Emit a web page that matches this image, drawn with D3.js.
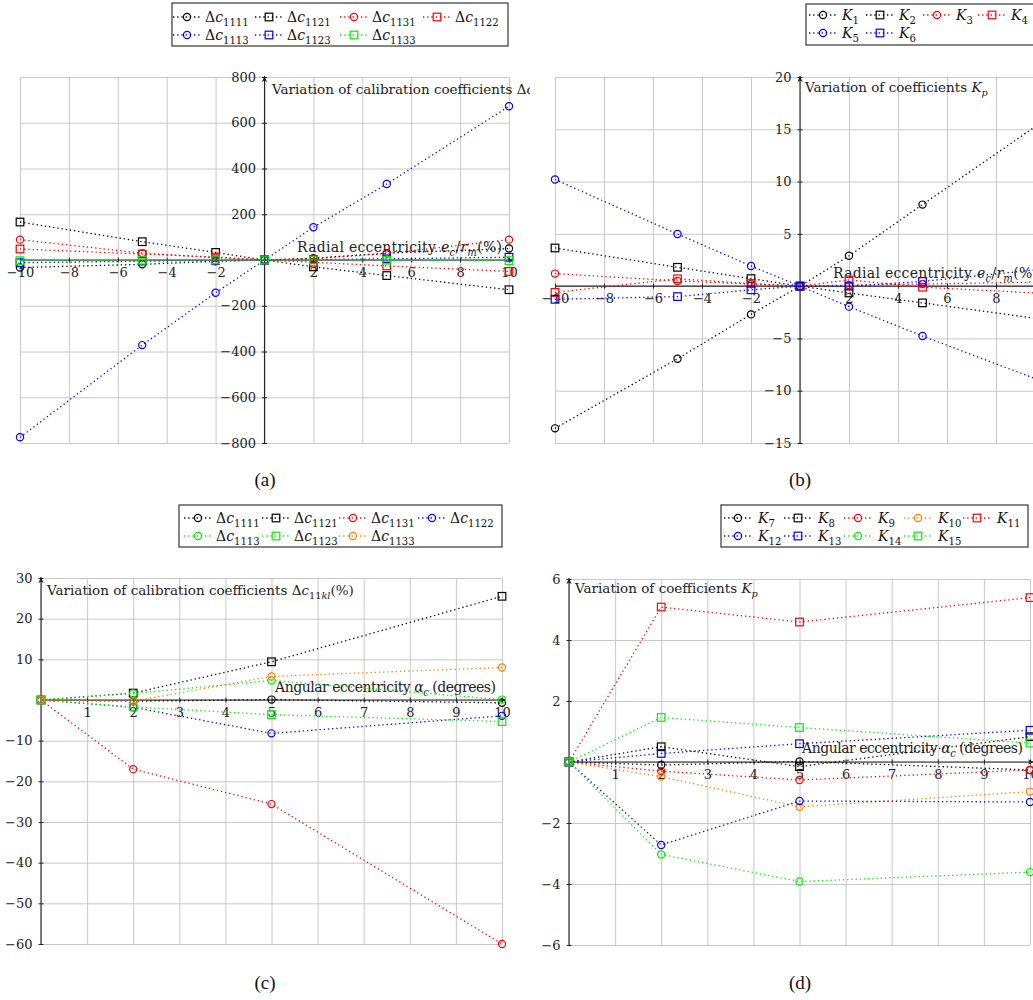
<!DOCTYPE html>
<html><head><meta charset="utf-8">
<script src="https://cdn.jsdelivr.net/npm/d3@7"></script>
<style>body{margin:0;background:#fff}</style>
</head><body>
<script>
// ---------------- DATA ----------------
const radialX = [-10, -5, -2, 0, 2, 5, 10];
const angularX = [0, 2, 5, 10];

// Panel (a): variation of calibration coefficients vs radial eccentricity
const aDc1111 = [-33, -19, -6, 0, 8, 30, 50];
const aDc1121 = [166, 80, 33, 0, -30, -68, -130];
const aDc1131 = [89, 30, 10, 0, 6, 28, 89];
const aDc1122 = [48, 26, 13, 0, -10, -26, -50];
const aDc1113 = [-775, -372, -143, 0, 143, 332, 672];
const aDc1123 = [-12, -5, -2, 0, 2, 5, 12];
const aDc1133 = [-3, -1, 0, 0, 0, -1, -3];
const aXTicks = [-10, -8, -6, -4, -2, 2, 4, 6, 8, 10];
const aYTicks = [800, 600, 400, 200, -200, -400, -600, -800];

// Panel (b): coefficients K1..K6 vs radial eccentricity
const bK1 = [-13.6, -6.95, -2.7, 0, 2.9, 7.8, 15.9];
const bK2 = [3.65, 1.8, 0.72, 0, -0.65, -1.6, -3.2];
const bK3 = [1.2, 0.5, 0.2, 0, 0.1, 0.2, 0.4];
const bK4 = [-0.6, 0.7, 0.25, 0, 0.6, -0.1, -0.7];
const bK5 = [10.2, 4.98, 1.93, 0, -1.96, -4.77, -9.2];
const bK6 = [-1.26, -1.0, -0.35, 0, 0.0, 0.45, 1.65];
const bXTicks = [-10, -8, -6, -4, -2, 2, 4, 6, 8, 10];
const bYTicks = [20, 15, 10, 5, -5, -10, -15];

// Panel (c): variation of calibration coefficients vs angular eccentricity
const cDc1111 = [0, -0.3, 0.1, -0.7];
const cDc1121 = [0, 1.7, 9.4, 25.5];
const cDc1131 = [0, -17, -25.6, -60];
const cDc1122 = [0, -1.8, -8.2, -3.9];
const cDc1113 = [0, 1.6, 4.8, 0.1];
const cDc1123 = [0, -1.7, -3.6, -5.3];
const cDc1133 = [0, -0.3, 5.8, 8.0];
const cXTicks = [1, 2, 3, 4, 5, 6, 7, 8, 9, 10];
const cYTicks = [30, 20, 10, -10, -20, -30, -40, -50, -60];

// Panel (d): coefficients K7..K15 vs angular eccentricity
const dK7 = [0, -0.1, 0.02, -0.26];
const dK8 = [0, 0.5, -0.15, 0.83];
const dK9 = [0, -0.3, -0.59, -0.26];
const dK10 = [0, -0.48, -1.47, -0.97];
const dK11 = [0, 5.08, 4.59, 5.39];
const dK12 = [0, -2.72, -1.28, -1.31];
const dK13 = [0, 0.28, 0.6, 1.04];
const dK14 = [0, -3.03, -3.92, -3.61];
const dK15 = [0, 1.46, 1.13, 0.62];
const dXTicks = [1, 2, 3, 4, 5, 6, 7, 8, 9, 10];
const dYTicks = [6, 4, 2, -2, -4, -6];

// ---------------- HELPERS ----------------
const FONT = "'DejaVu Serif', serif";
const CAPFONT = "'Liberation Serif', 'DejaVu Serif', serif";
const COL = {black:"#000", red:"#ff0000", blue:"#0000ff", green:"#00f000", orange:"#ff8000"};

const svg = d3.select("body").append("svg").attr("width", 1033).attr("height", 1000)
  .attr("font-family", FONT);
const defs = svg.append("defs");
defs.append("marker").attr("id", "arrow").attr("viewBox", "0 0 8 8")
  .attr("refX", 7).attr("refY", 4).attr("markerWidth", 7).attr("markerHeight", 7)
  .attr("markerUnits", "userSpaceOnUse").attr("orient", "auto")
  .append("path").attr("d", "M0,1 L7,4 L0,7 L2,4 z").attr("fill", "#222");

function addMath(textSel, segs) {
  let sub = false;
  segs.forEach(s => {
    const ts = textSel.append("tspan").text(s.t);
    if (s.i) ts.attr("font-style", "italic");
    if (s.sub) {
      ts.attr("font-size", "0.72em");
      if (!sub) { ts.attr("dy", 4); sub = true; }
    } else if (sub) { ts.attr("dy", -4); sub = false; }
  });
}
const dcLabel = idx => [{t:"Δ"}, {t:"c", i:true}, {t:idx, sub:true}];
const kLabel = idx => [{t:"K", i:true}, {t:idx, sub:true}];

function drawMarker(g, type, cx, cy, color) {
  if (type === "circle") {
    g.append("circle").attr("cx", cx).attr("cy", cy).attr("r", 3.6)
      .attr("fill", "none").attr("stroke", color).attr("stroke-width", 1.2);
  } else {
    g.append("rect").attr("x", cx - 3.8).attr("y", cy - 3.8).attr("width", 7.6).attr("height", 7.6)
      .attr("fill", "none").attr("stroke", color).attr("stroke-width", 1.2);
  }
}

function drawPanel(p) {
  const clipId = p.id + "-clip";
  defs.append("clipPath").attr("id", clipId).append("rect")
    .attr("x", p.clip[0]).attr("y", p.clip[1]).attr("width", p.clip[2]).attr("height", p.clip[3]);
  const g = svg.append("g").attr("clip-path", `url(#${clipId})`);
  const x = d3.scaleLinear().domain(p.xDom).range(p.xRange);
  const y = d3.scaleLinear().domain(p.yDom).range(p.yRange);
  const gh = p.yRange[0] - p.yRange[1];
  const gw = p.xRange[1] - p.xRange[0];

  // grid
  g.append("g").attr("transform", `translate(0,${p.yRange[0]})`)
    .call(d3.axisBottom(x).tickValues(p.xGrid).tickSize(-gh).tickFormat(""))
    .call(s => { s.select(".domain").remove(); s.selectAll("line").attr("stroke", "#c8c8c8").attr("stroke-width", 1); });
  g.append("g").attr("transform", `translate(${p.xRange[0]},0)`)
    .call(d3.axisLeft(y).tickValues(p.yGrid).tickSize(-gw).tickFormat(""))
    .call(s => { s.select(".domain").remove(); s.selectAll("line").attr("stroke", "#c8c8c8").attr("stroke-width", 1); });

  const x0 = x(0), y0 = y(0);
  // axis lines with arrows
  g.append("line").attr("x1", p.xRange[0]).attr("x2", p.xRange[1] + 4).attr("y1", y0).attr("y2", y0)
    .attr("stroke", "#222").attr("stroke-width", 1.1).attr("marker-end", "url(#arrow)");
  g.append("line").attr("x1", x0).attr("x2", x0).attr("y1", p.yRange[0]).attr("y2", p.yRange[1] - 1)
    .attr("stroke", "#222").attr("stroke-width", 1.1).attr("marker-end", "url(#arrow)");

  // tick labels via d3 axes
  const fs = 13;
  g.append("g").attr("transform", `translate(0,${y0})`)
    .call(d3.axisBottom(x).tickValues(p.xTicks).tickSize(2.5).tickPadding(p.xPad || 5))
    .call(s => {
      s.attr("font-family", FONT);
      s.select(".domain").remove();
      s.selectAll(".tick line").attr("y1", -2.5).attr("stroke", "#222");
      s.selectAll("text").attr("font-family", FONT).attr("font-size", fs).attr("fill", "#222");
    });
  g.append("g").attr("transform", `translate(${x0},0)`)
    .call(d3.axisLeft(y).tickValues(p.yTicks).tickSize(2.5).tickPadding(6))
    .call(s => {
      s.attr("font-family", FONT);
      s.select(".domain").remove();
      s.selectAll(".tick line").attr("x1", 2.5).attr("stroke", "#222");
      s.selectAll("text").attr("font-family", FONT).attr("font-size", fs).attr("fill", "#222");
    });

  // axis labels
  const yl = g.append("text").attr("x", p.yLabelPos[0]).attr("y", p.yLabelPos[1])
    .attr("font-size", 13.5).attr("fill", "#222");
  addMath(yl, p.yLabel);
  const xl = g.append("text").attr("x", p.xLabelPos[0]).attr("y", p.xLabelPos[1])
    .attr("font-size", 14).attr("fill", "#222")
    .attr("textLength", p.xLabelLen).attr("lengthAdjust", "spacing");
  addMath(xl, p.xLabel);

  // series
  const line = d3.line().x(d => x(d[0])).y(d => y(d[1]));
  p.series.forEach(s => {
    const pts = p.xs.map((xv, i) => [xv, s.values[i]]);
    g.append("path").attr("d", line(pts)).attr("fill", "none")
      .attr("stroke", s.color).attr("stroke-width", 1.3).attr("stroke-dasharray", "1.3,2.9");
    const mg = g.append("g");
    pts.forEach(d => drawMarker(mg, s.marker, x(d[0]), y(d[1]), s.color));
  });

  // legend
  const L = p.legend;
  const lg = svg.append("g");
  lg.append("rect").attr("x", L.box[0]).attr("y", L.box[1]).attr("width", L.box[2]).attr("height", L.box[3])
    .attr("fill", "#fff").attr("stroke", "#222").attr("stroke-width", 1.1);
  p.series.forEach((s, i) => {
    const col = i % L.cols.length, row = Math.floor(i / L.cols.length);
    const mx = L.cols[col], my = L.rows[row];
    lg.append("line").attr("x1", mx - 14).attr("x2", mx + 14).attr("y1", my).attr("y2", my)
      .attr("stroke", s.color).attr("stroke-width", 1.3).attr("stroke-dasharray", "1.3,2.9");
    drawMarker(lg, s.marker, mx, my, s.color);
    const t = lg.append("text").attr("x", mx + L.dx).attr("y", my + 5).attr("font-size", 14).attr("fill", "#111");
    addMath(t, s.label);
  });

  // caption
  svg.append("text").attr("x", p.caption[0]).attr("y", p.caption[1]).attr("text-anchor", "middle")
    .attr("font-family", CAPFONT).attr("font-size", 19).attr("fill", "#111").text(p.caption[2]);
}

const dcYLabel = [{t:"Variation of calibration coefficients Δ"}, {t:"c", i:true}, {t:"11", sub:true}, {t:"kl", sub:true, i:true}, {t:"(%)"}];
const kYLabel = [{t:"Variation of coefficients "}, {t:"K", i:true}, {t:"p", sub:true, i:true}];
const radLabel = [{t:"Radial eccentricity "}, {t:"e", i:true}, {t:"c", sub:true, i:true}, {t:"/"}, {t:"r", i:true}, {t:"m", sub:true, i:true}, {t:"(%)"}];
const angLabel = [{t:"Angular eccentricity "}, {t:"α", i:true}, {t:"c", sub:true, i:true}, {t:" (degrees)"}];

drawPanel({
  id: "pa", clip: [0, 60, 530, 400],
  xDom: [-10, 10], xRange: [20, 509], yDom: [-800, 800], yRange: [443, 77],
  xGrid: d3.range(-10, 11, 2), yGrid: d3.range(-800, 801, 200),
  xTicks: aXTicks, yTicks: aYTicks, xs: radialX,
  yLabel: dcYLabel, yLabelPos: [272, 94], xLabel: radLabel, xLabelPos: [297, 252], xLabelLen: 205,
  series: [
    {label: dcLabel("1111"), color: COL.black, marker: "circle", values: aDc1111},
    {label: dcLabel("1121"), color: COL.black, marker: "square", values: aDc1121},
    {label: dcLabel("1131"), color: COL.red, marker: "circle", values: aDc1131},
    {label: dcLabel("1122"), color: COL.red, marker: "square", values: aDc1122},
    {label: dcLabel("1113"), color: COL.blue, marker: "circle", values: aDc1113},
    {label: dcLabel("1123"), color: COL.blue, marker: "square", values: aDc1123},
    {label: dcLabel("1133"), color: COL.green, marker: "square", values: aDc1133}
  ],
  legend: {box: [172, 3, 336, 43], cols: [187, 269, 354, 437], rows: [17, 35], dx: 18},
  caption: [265, 486, "(a)"]
});

drawPanel({
  id: "pb", clip: [530, 60, 503, 400],
  xDom: [-10, 10], xRange: [555, 1045], yDom: [-15, 20], yRange: [443, 77],
  xGrid: d3.range(-10, 11, 2), yGrid: d3.range(-15, 21, 5),
  xTicks: bXTicks, yTicks: bYTicks, xs: radialX,
  yLabel: kYLabel, yLabelPos: [805, 92], xLabel: radLabel, xLabelPos: [833, 278], xLabelLen: 205,
  series: [
    {label: kLabel("1"), color: COL.black, marker: "circle", values: bK1},
    {label: kLabel("2"), color: COL.black, marker: "square", values: bK2},
    {label: kLabel("3"), color: COL.red, marker: "circle", values: bK3},
    {label: kLabel("4"), color: COL.red, marker: "square", values: bK4},
    {label: kLabel("5"), color: COL.blue, marker: "circle", values: bK5},
    {label: kLabel("6"), color: COL.blue, marker: "square", values: bK6}
  ],
  legend: {box: [806, 4, 240, 41], cols: [823, 880, 937, 992], rows: [15, 33], dx: 19},
  caption: [800, 486, "(b)"]
});

drawPanel({
  id: "pc", clip: [0, 560, 530, 400],
  xDom: [0, 10], xRange: [41, 502], yDom: [-60, 30], yRange: [944, 578],
  xGrid: d3.range(0, 11, 1), yGrid: d3.range(-60, 31, 10),
  xTicks: cXTicks, yTicks: cYTicks, xs: angularX,
  yLabel: dcYLabel, yLabelPos: [47, 595], xLabel: angLabel, xLabelPos: [275, 692], xLabelLen: 221,
  series: [
    {label: dcLabel("1111"), color: COL.black, marker: "circle", values: cDc1111},
    {label: dcLabel("1121"), color: COL.black, marker: "square", values: cDc1121},
    {label: dcLabel("1131"), color: COL.red, marker: "circle", values: cDc1131},
    {label: dcLabel("1122"), color: COL.blue, marker: "circle", values: cDc1122},
    {label: dcLabel("1113"), color: COL.green, marker: "circle", values: cDc1113},
    {label: dcLabel("1123"), color: COL.green, marker: "square", values: cDc1123},
    {label: dcLabel("1133"), color: COL.orange, marker: "circle", values: cDc1133}
  ],
  legend: {box: [179, 505, 323, 42], cols: [198, 276, 353, 432], rows: [518, 536], dx: 18},
  caption: [265, 989, "(c)"]
});

drawPanel({
  id: "pd", clip: [530, 560, 503, 400],
  xDom: [0, 10], xRange: [569, 1030], yDom: [-6, 6], yRange: [945, 579],
  xGrid: d3.range(0, 11, 1), yGrid: d3.range(-6, 7, 2),
  xTicks: dXTicks, yTicks: dYTicks, xs: angularX,
  yLabel: kYLabel, yLabelPos: [575, 593], xLabel: angLabel, xLabelPos: [802, 753], xLabelLen: 221,
  series: [
    {label: kLabel("7"), color: COL.black, marker: "circle", values: dK7},
    {label: kLabel("8"), color: COL.black, marker: "square", values: dK8},
    {label: kLabel("9"), color: COL.red, marker: "circle", values: dK9},
    {label: kLabel("10"), color: COL.orange, marker: "circle", values: dK10},
    {label: kLabel("11"), color: COL.red, marker: "square", values: dK11},
    {label: kLabel("12"), color: COL.blue, marker: "circle", values: dK12},
    {label: kLabel("13"), color: COL.blue, marker: "square", values: dK13},
    {label: kLabel("14"), color: COL.green, marker: "circle", values: dK14},
    {label: kLabel("15"), color: COL.green, marker: "square", values: dK15}
  ],
  legend: {box: [721, 505, 307, 42], cols: [738, 798, 858, 918, 977], rows: [518, 536], dx: 20},
  caption: [800, 989, "(d)"]
});
</script>
</body></html>
